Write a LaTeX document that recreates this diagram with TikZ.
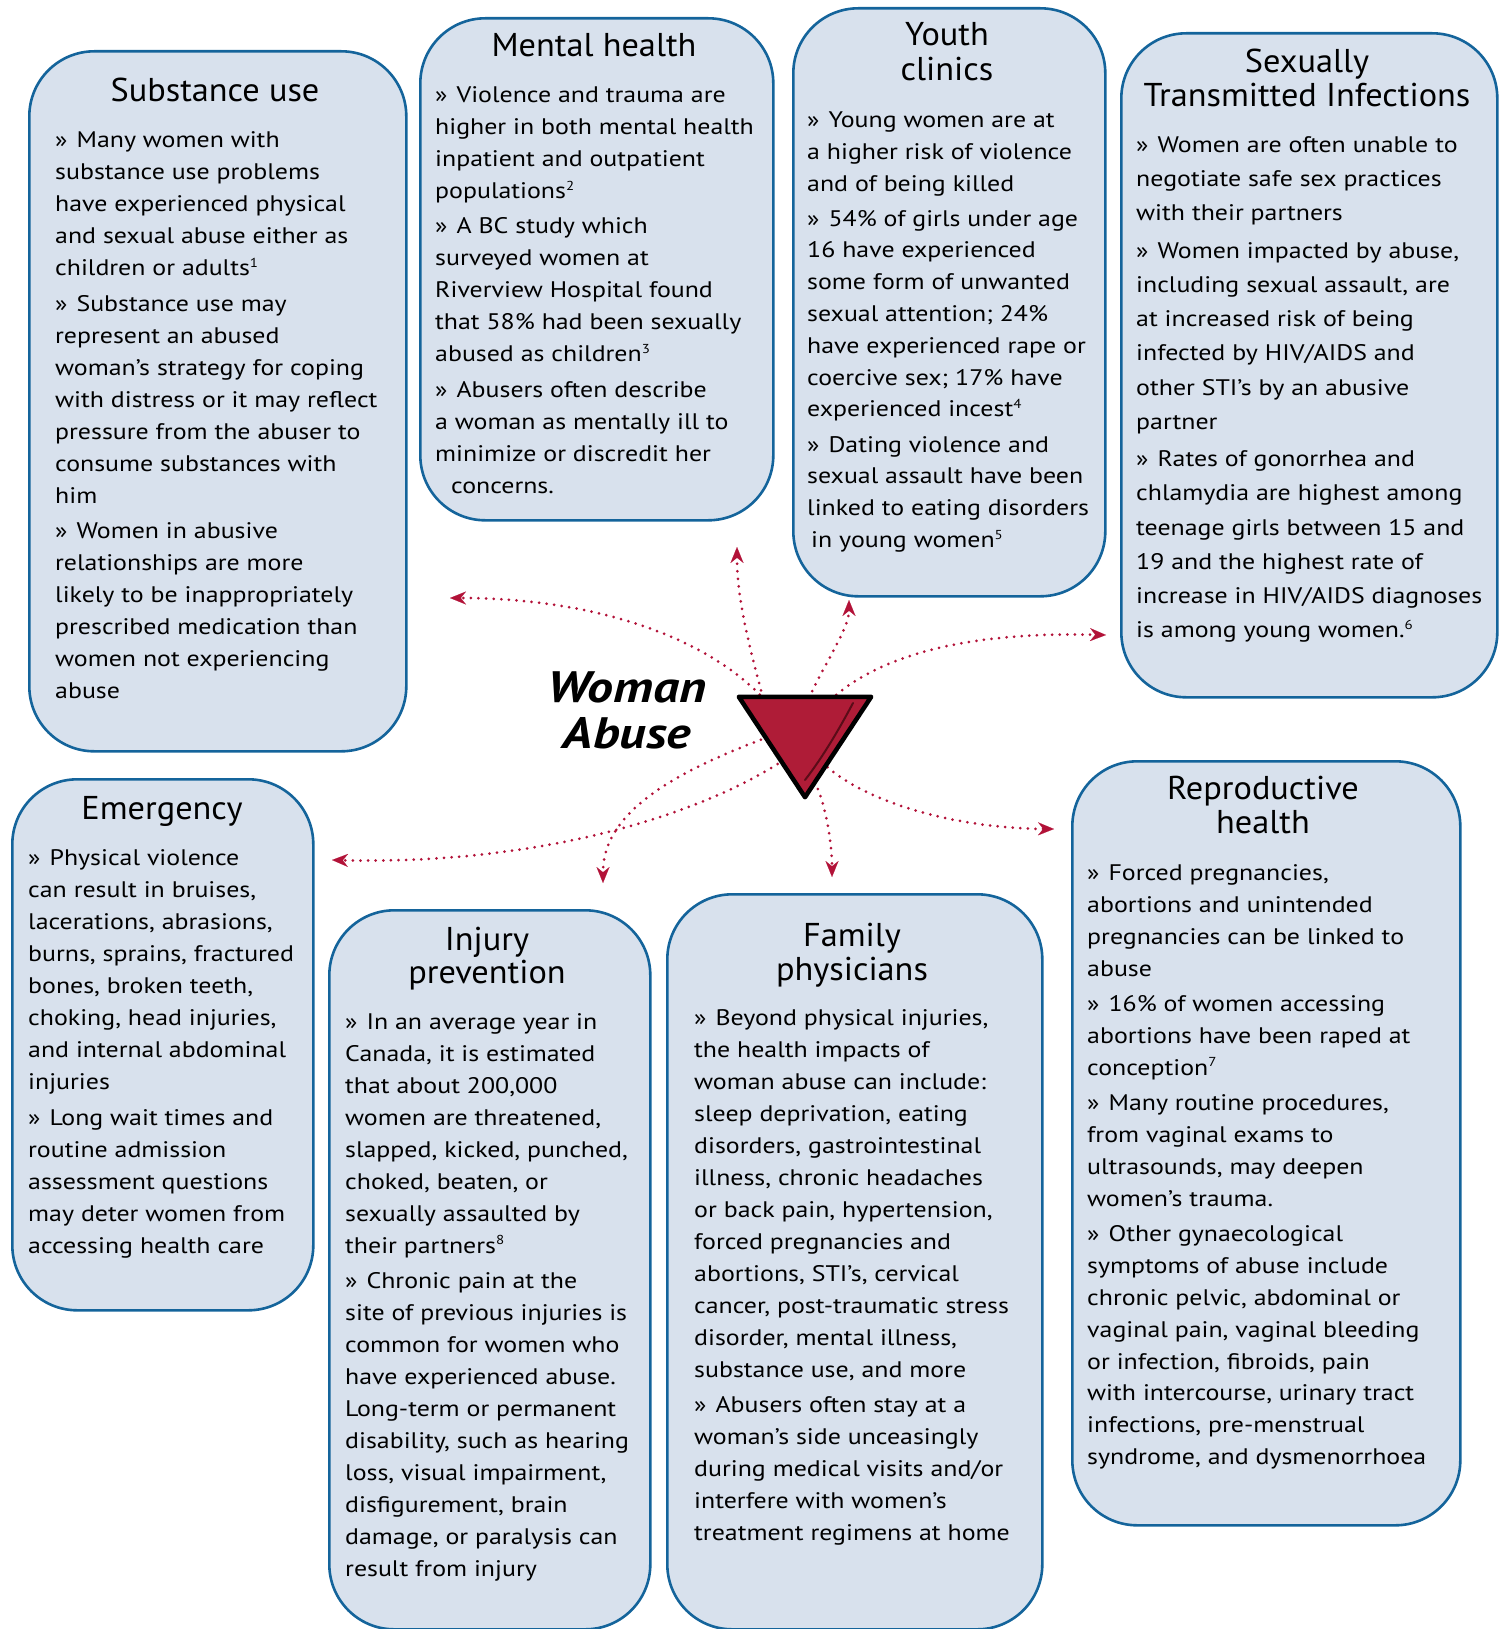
\documentclass[tikz,border=0pt]{standalone}
\usepackage{fontspec}
\setmainfont{PT Sans}[FakeStretch=1.15]
\newfontfamily\headfont{PT Sans}[FakeStretch=1.04]
\newfontfamily\labelfont{PT Sans}[FakeStretch=1.18]
\usetikzlibrary{arrows.meta,backgrounds}
\definecolor{boxfill}{HTML}{D8E1ED}
\definecolor{boxline}{HTML}{14649B}
\definecolor{linkred}{HTML}{B21238}
\definecolor{trired}{HTML}{AF1C37}
\definecolor{scratch}{HTML}{5A0C18}
\newcommand\bul{»\hspace{0.4em}}
\newcommand\fnum[1]{\raisebox{0.75ex}{\fontsize{13}{13}\selectfont #1}}
\tikzset{
  panel/.style={draw=boxline, fill=boxfill, line width=2.6pt, rounded corners=65pt,
    anchor=north west, inner sep=0},
  heading/.style={anchor=base, inner sep=0, font=\headfont\fontsize{33}{34}\selectfont},
  bodytext/.style={anchor=base west, inner sep=0, font=\fontsize{22.5}{32}\selectfont},
  link/.style={draw=linkred, line width=3pt, dash pattern=on 0pt off 7.6pt, line cap=round,
    -{Stealth[length=16pt,width=13pt,line width=0.1pt]}},
}
\begin{document}
\begin{tikzpicture}[x=1pt,y=-1pt]
\useasboundingbox (0,0) rectangle (1499,1629);

% ---- panels ----
\node[panel, minimum width=377pt, minimum height=700pt] (subPanel) at (28,50) {};
\node[panel, minimum width=353pt, minimum height=502pt] (mentPanel) at (419,17) {};
\node[panel, minimum width=312pt, minimum height=588pt] (youthPanel) at (792,7) {};
\node[panel, minimum width=376pt, minimum height=664pt] (stiPanel) at (1120,32) {};
\node[panel, minimum width=301pt, minimum height=531pt] (emerPanel) at (11,778) {};
\node[panel, minimum width=321pt, minimum height=719pt] (injPanel) at (328,909) {};
\node[panel, minimum width=375pt, minimum height=735pt] (famPanel) at (666,893) {};
\node[panel, minimum width=388pt, minimum height=764pt] (repPanel) at (1071,760) {};

% ---- headings ----
\node[heading] (subHead) at (215,102) {Substance use};
\node[heading] (mentHead) at (594,57) {Mental health};
\node[heading] (youthHead) at (947,46) {\parbox[t]{300pt}{\centering\baselineskip=35pt Youth\\clinics}};
\node[heading] (stiHead) at (1307,73) {\parbox[t]{370pt}{\centering\baselineskip=33.5pt Sexually\\Transmitted Infections}};
\node[heading] (emerHead) at (162,819) {Emergency};
\node[heading] (injHead) at (487,950) {\parbox[t]{300pt}{\centering\baselineskip=33pt Injury\\prevention}};
\node[heading] (famHead) at (852,946) {\parbox[t]{300pt}{\centering\baselineskip=34pt Family\\physicians}};
\node[heading] (repHead) at (1263,799) {\parbox[t]{370pt}{\centering\baselineskip=34.7pt Reproductive\\health}};

% ---- body texts ----
\node[bodytext] (subBody) at (55,148) {\parbox[t]{360pt}{\raggedright
\bul Many women with\\
substance use problems\\
have experienced physical\\
and sexual abuse either as\\
children or adults\fnum{1}\\[3.3pt]
\bul Substance use may\\
represent an abused\\
woman’s strategy for coping\\
with distress or it may reflect\\
pressure from the abuser to\\
consume substances with\\
him\\[3.3pt]
\bul Women in abusive\\
relationships are more\\
likely to be inappropriately\\
prescribed medication than\\
women not experiencing\\
abuse}};

\node[bodytext] (mentBody) at (435,102.5) {\parbox[t]{340pt}{\raggedright
\bul Violence and trauma are\\
higher in both mental health\\
inpatient and outpatient\\
populations\fnum{2}\\[3.3pt]
\bul A BC study which\\
surveyed women at\\
Riverview Hospital found\\
that 58\% had been sexually\\
abused as children\fnum{3}\\[3.3pt]
\bul Abusers often describe\\
a woman as mentally ill to\\
minimize or discredit her\\
\hspace*{16pt}concerns.}};

\node[bodytext] (youthBody) at (807,127.5) {\parbox[t]{300pt}{\raggedright\baselineskip=31.8pt
\bul Young women are at\\
a higher risk of violence\\
and of being killed\\[3.3pt]
\bul 54\% of girls under age\\
16 have experienced\\
some form of unwanted\\
sexual attention; 24\%\\
have experienced rape or\\
coercive sex; 17\% have\\
experienced incest\fnum{4}\\[3.3pt]
\bul Dating violence and\\
sexual assault have been\\
linked to eating disorders\\
\hspace*{4pt}in young women\fnum{5}}};

\node[bodytext] (stiBody) at (1136,152.4) {\parbox[t]{360pt}{\raggedright\baselineskip=34.2pt
\bul Women are often unable to\\
negotiate safe sex practices\\
with their partners\\[3.3pt]
\bul Women impacted by abuse,\\
including sexual assault, are\\
at increased risk of being\\
infected by HIV/AIDS and\\
other STI’s by an abusive\\
partner\\[3.3pt]
\bul Rates of gonorrhea and\\
chlamydia are highest among\\
teenage girls between 15 and\\
19 and the highest rate of\\
increase in HIV/AIDS diagnoses\\
is among young women.\fnum{6}}};

\node[bodytext] (emerBody) at (28,865) {\parbox[t]{290pt}{\raggedright\baselineskip=32.1pt
\bul Physical violence\\
can result in bruises,\\
lacerations, abrasions,\\
burns, sprains, fractured\\
bones, broken teeth,\\
choking, head injuries,\\
and internal abdominal\\
injuries\\[3.3pt]
\bul Long wait times and\\
routine admission\\
assessment questions\\
may deter women from\\
accessing health care}};

\node[bodytext] (injBody) at (345,1029) {\parbox[t]{310pt}{\raggedright
\bul In an average year in\\
Canada, it is estimated\\
that about 200,000\\
women are threatened,\\
slapped, kicked, punched,\\
choked, beaten, or\\
sexually assaulted by\\
their partners\fnum{8}\\[3.3pt]
\bul Chronic pain at the\\
site of previous injuries is\\
common for women who\\
have experienced abuse.\\
Long-term or permanent\\
disability, such as hearing\\
loss, visual impairment,\\
disfigurement, brain\\
damage, or paralysis can\\
result from injury}};

\node[bodytext] (famBody) at (694,1025) {\parbox[t]{340pt}{\raggedright
\bul Beyond physical injuries,\\
the health impacts of\\
woman abuse can include:\\
sleep deprivation, eating\\
disorders, gastrointestinal\\
illness, chronic headaches\\
or back pain, hypertension,\\
forced pregnancies and\\
abortions, STI’s, cervical\\
cancer, post-traumatic stress\\
disorder, mental illness,\\
substance use, and more\\[3.3pt]
\bul Abusers often stay at a\\
woman’s side unceasingly\\
during medical visits and/or\\
interfere with women’s\\
treatment regimens at home}};

\node[bodytext] (repBody) at (1087,880.6) {\parbox[t]{370pt}{\raggedright\baselineskip=31.9pt
\bul Forced pregnancies,\\
abortions and unintended\\
pregnancies can be linked to\\
abuse\\[3.3pt]
\bul 16\% of women accessing\\
abortions have been raped at\\
conception\fnum{7}\\[3.3pt]
\bul Many routine procedures,\\
from vaginal exams to\\
ultrasounds, may deepen\\
women’s trauma.\\[3.3pt]
\bul Other gynaecological\\
symptoms of abuse include\\
chronic pelvic, abdominal or\\
vaginal pain, vaginal bleeding\\
or infection, fibroids, pain\\
with intercourse, urinary tract\\
infections, pre-menstrual\\
syndrome, and dysmenorrhoea}};

% ---- centre: label and triangle ----
\node[anchor=base, inner sep=0, font=\labelfont\fontsize{44}{46}\selectfont\bfseries\itshape] (label)
  at (627,702) {\parbox[t]{240pt}{\centering Woman\\Abuse}};
\node[inner sep=0, minimum width=132pt, minimum height=100pt] (abuse) at (805,747) {};

% free ends of the connectors
\coordinate (toSub) at (450,598);
\coordinate (toMent) at (737,547);
\coordinate (toYouth) at (849,600);
\coordinate (toSti) at (1106,635);
\coordinate (toRep) at (1054,829);
\coordinate (toFam) at (832,877);
\coordinate (toInj) at (603,883);
\coordinate (toEmer) at (332,860);

\begin{pgfonlayer}{background}
\draw[link] ([shift={(-40,-47)}]abuse.center) .. controls (700,630) and (580,598) .. (toSub);
\draw[link] ([shift={(-40,-42)}]abuse.center) .. controls (750,650) and (737,600) .. (toMent);
\draw[link] ([shift={(1,-42)}]abuse.center) .. controls (820,670) and (849,630) .. (toYouth);
\draw[link] ([shift={(20,-42)}]abuse.center) .. controls (880,650) and (980,632) .. (toSti);
\draw[link] ([shift={(17,15)}]abuse.center) .. controls (860,800) and (950,828) .. (toRep);
\draw[link] ([shift={(10,35)}]abuse.center) .. controls (828,810) and (832,850) .. (toFam);
\draw[link] ([shift={(-37,-10)}]abuse.center) .. controls (680,770) and (603,810) .. (toInj);
\draw[link] ([shift={(-21,13)}]abuse.center) .. controls (700,815) and (540,865) .. (toEmer);
\end{pgfonlayer}

\draw[fill=trired, draw=black, line width=4.5pt, line join=round]
  (abuse.north west) -- (abuse.north east) -- (abuse.south) -- cycle;
\draw[scratch, line width=2pt, line cap=round]
  ([shift={(48,-44)}]abuse.center) .. controls ([shift={(30,-10)}]abuse.center) and ([shift={(14,15)}]abuse.center) .. ([shift={(0,33)}]abuse.center);
\end{tikzpicture}
\end{document}
